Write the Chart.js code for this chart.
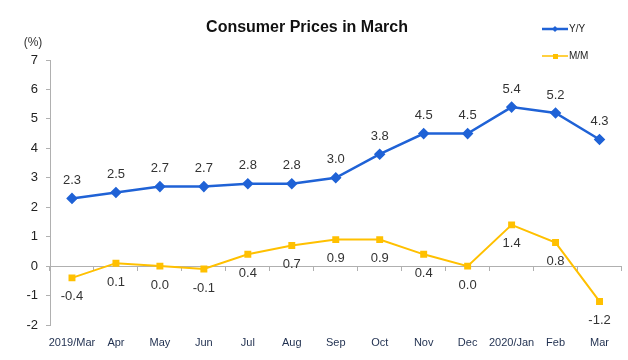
<!DOCTYPE html>
<html>
<head>
<meta charset="utf-8">
<script src="https://cdn.jsdelivr.net/npm/chart.js@4"></script>
<style>
  body { margin: 0; background: #fff; }
  #wrap { width: 628px; height: 360px; position: relative; }
</style>
</head>
<body>
<div id="wrap"><canvas id="chart"></canvas></div>
<script>
const months = ['2019/Mar', 'Apr', 'May', 'Jun', 'Jul', 'Aug', 'Sep', 'Oct', 'Nov', 'Dec', '2020/Jan', 'Feb', 'Mar'];
const yoy = [2.3, 2.5, 2.7, 2.7, 2.8, 2.8, 3.0, 3.8, 4.5, 4.5, 5.4, 5.2, 4.3];
const mom = [-0.4, 0.1, 0.0, -0.1, 0.4, 0.7, 0.9, 0.9, 0.4, 0.0, 1.4, 0.8, -1.2];
const yTicks = [-2, -1, 0, 1, 2, 3, 4, 5, 6, 7];

const blue = '#1f62d6';
const yellow = '#ffc000';

// value labels, legend, title and unit drawn on the canvas
const extras = {
    id: 'extras',
    afterDatasetsDraw(c) {
        const ctx = c.ctx;
        ctx.save();
        ctx.font = '13px "Liberation Sans", Arial, sans-serif';
        ctx.fillStyle = '#333';
        ctx.textAlign = 'center';
        ctx.textBaseline = 'middle';
        c.getDatasetMeta(0).data.forEach((p, i) => {
            ctx.fillText(yoy[i].toFixed(1), p.x, p.y - 18);
        });
        c.getDatasetMeta(1).data.forEach((p, i) => {
            ctx.fillText(mom[i].toFixed(1), p.x, p.y + 19);
        });

        ctx.font = 'bold 16px "Liberation Sans", Arial, sans-serif';
        ctx.fillStyle = '#111';
        ctx.fillText('Consumer Prices in March', 307, 28);

        ctx.font = '12px "Liberation Sans", Arial, sans-serif';
        ctx.fillStyle = '#333';
        ctx.fillText('(%)', 33, 43);

        const items = [
            { label: 'Y/Y', color: blue, y: 29, style: 'diamond' },
            { label: 'M/M', color: yellow, y: 56, style: 'square' }
        ];
        items.forEach(it => {
            ctx.strokeStyle = it.color;
            ctx.fillStyle = it.color;
            ctx.lineWidth = it.style === 'diamond' ? 2.5 : 1.5;
            ctx.beginPath();
            ctx.moveTo(542, it.y);
            ctx.lineTo(568, it.y);
            ctx.stroke();
            ctx.beginPath();
            if (it.style === 'diamond') {
                ctx.moveTo(555, it.y - 3);
                ctx.lineTo(558, it.y);
                ctx.lineTo(555, it.y + 3);
                ctx.lineTo(552, it.y);
            } else {
                ctx.rect(553, it.y - 2, 5, 5);
            }
            ctx.fill();
            ctx.font = '10px "Liberation Sans Narrow", "Liberation Sans", Arial, sans-serif';
            ctx.fillStyle = '#222';
            ctx.textAlign = 'left';
            ctx.fillText(it.label, 569, it.y);
        });
        ctx.restore();
    }
};

new Chart(document.getElementById('chart'), {
    type: 'line',
    data: {
        labels: months,
        datasets: [
            {
                label: 'Y/Y',
                data: yoy,
                borderColor: blue,
                backgroundColor: blue,
                borderWidth: 2.5,
                pointStyle: 'rectRot',
                pointRadius: 4,
                pointHoverRadius: 4,
                tension: 0
            },
            {
                label: 'M/M',
                data: mom,
                borderColor: yellow,
                backgroundColor: yellow,
                borderWidth: 2,
                pointStyle: 'rect',
                pointRadius: 3.5,
                pointHoverRadius: 3.5,
                tension: 0
            }
        ]
    },
    options: {
        responsive: true,
        maintainAspectRatio: false,
        animation: false,
        layout: { padding: { top: 60, left: 0, right: 3, bottom: 0 } },
        plugins: {
            legend: { display: false },
            tooltip: { enabled: false }
        },
        scales: {
            x: {
                offset: true,
                grid: { display: false },
                border: { display: false },
                ticks: {
                    padding: 3,
                    color: '#1f2f4f',
                    font: { size: 11, family: '"Liberation Sans Narrow", "Liberation Sans", Arial, sans-serif' },
                    maxRotation: 0,
                    autoSkip: false
                },
                afterFit(s) { s.height = 35; }
            },
            x2: {
                type: 'category',
                position: { y: 0 },
                offset: true,
                grid: { drawOnChartArea: false, drawTicks: true, tickLength: 4, color: '#b0b0b0', offset: true },
                border: { color: '#b0b0b0', width: 1 },
                ticks: { display: false }
            },
            y: {
                min: -2,
                max: 7,
                afterBuildTicks(s) { s.ticks = yTicks.map(v => ({ value: v })); },
                grid: { drawOnChartArea: false, drawTicks: true, tickLength: 4, color: '#b0b0b0' },
                border: { color: '#b0b0b0', width: 1 },
                ticks: {
                    padding: 8,
                    color: '#222',
                    font: { size: 13, family: '"Liberation Sans", Arial, sans-serif' }
                },
                afterFit(s) { s.width = 50; }
            }
        }
    },
    plugins: [extras]
});
</script>
</body>
</html>
